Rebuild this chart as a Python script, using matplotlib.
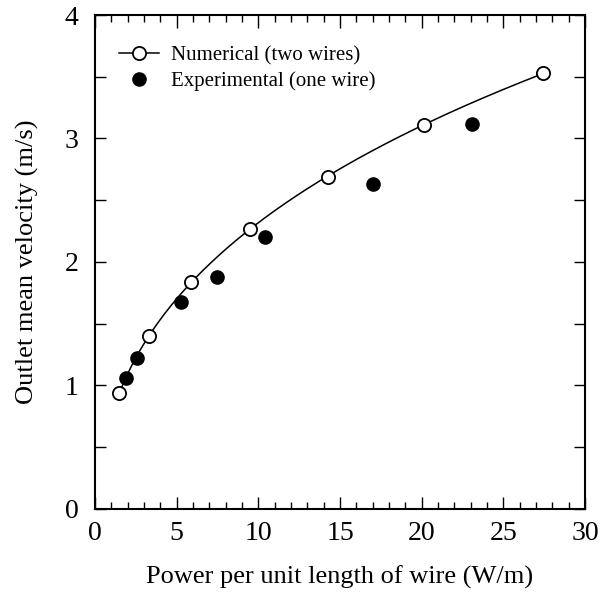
import numpy as np
import matplotlib
matplotlib.use('Agg')
import matplotlib.pyplot as plt
from matplotlib.ticker import MultipleLocator

plt.rcParams['font.family'] = ['Liberation Serif', 'DejaVu Serif']

# Data
num_power = [1.49, 3.33, 5.88, 9.49, 14.25, 20.15, 27.45]
num_velocity = [0.94, 1.40, 1.84, 2.27, 2.69, 3.11, 3.53]

exp_power = [1.88, 2.59, 5.27, 7.47, 10.41, 17.0, 23.1]
exp_velocity = [1.06, 1.22, 1.68, 1.88, 2.20, 2.63, 3.12]

# smooth curve through numerical results (cubic fit in log space)
coef = np.polyfit(np.log(num_power), num_velocity, 3)
xs = np.linspace(num_power[0], num_power[-1], 200)
ys = np.polyval(coef, np.log(xs))

fig = plt.figure(figsize=(6.05, 5.93), dpi=100)
ax = fig.add_axes([0.157, 0.1417, 0.81, 0.833])

ax.plot(xs, ys, color='black', lw=1.1, zorder=2)
ax.plot(num_power, num_velocity, 'o', ms=9.5, mfc='white', mec='black', mew=1.3, zorder=3)
ax.plot(exp_power, exp_velocity, 'o', ms=9.5, mfc='black', mec='black', zorder=3)

# legend handles
h1, = ax.plot([], [], '-o', color='black', lw=1.1, ms=9.5, mfc='white', mec='black', mew=1.3)
h2, = ax.plot([], [], 'o', ms=9.5, mfc='black', mec='black')
ax.legend([h1, h2], ['Numerical (two wires)', 'Experimental (one wire)'],
          loc='upper left', frameon=False, fontsize=15, handlelength=1.9,
          handletextpad=0.55, labelspacing=0.3, borderaxespad=0.0,
          bbox_to_anchor=(0.033, 0.955))

ax.set_xlim(0, 30)
ax.set_ylim(0, 4)
ax.xaxis.set_major_locator(MultipleLocator(5))
ax.xaxis.set_minor_locator(MultipleLocator(1))
ax.yaxis.set_major_locator(MultipleLocator(1))
ax.yaxis.set_minor_locator(MultipleLocator(0.5))
ax.tick_params(which='both', direction='in', top=True, right=True, labelsize=20, width=1)
ax.tick_params(axis='x', which='major', length=9, pad=9)
ax.tick_params(axis='x', which='minor', length=5)
ax.tick_params(axis='y', which='both', length=8, pad=12)
for s in ax.spines.values():
    s.set_linewidth(1.5)

ax.set_xlabel('Power per unit length of wire (W/m)', fontsize=19, labelpad=14)
ax.set_ylabel('Outlet mean velocity (m/s)', fontsize=19, labelpad=18)

fig.savefig('out.png', dpi=100)
